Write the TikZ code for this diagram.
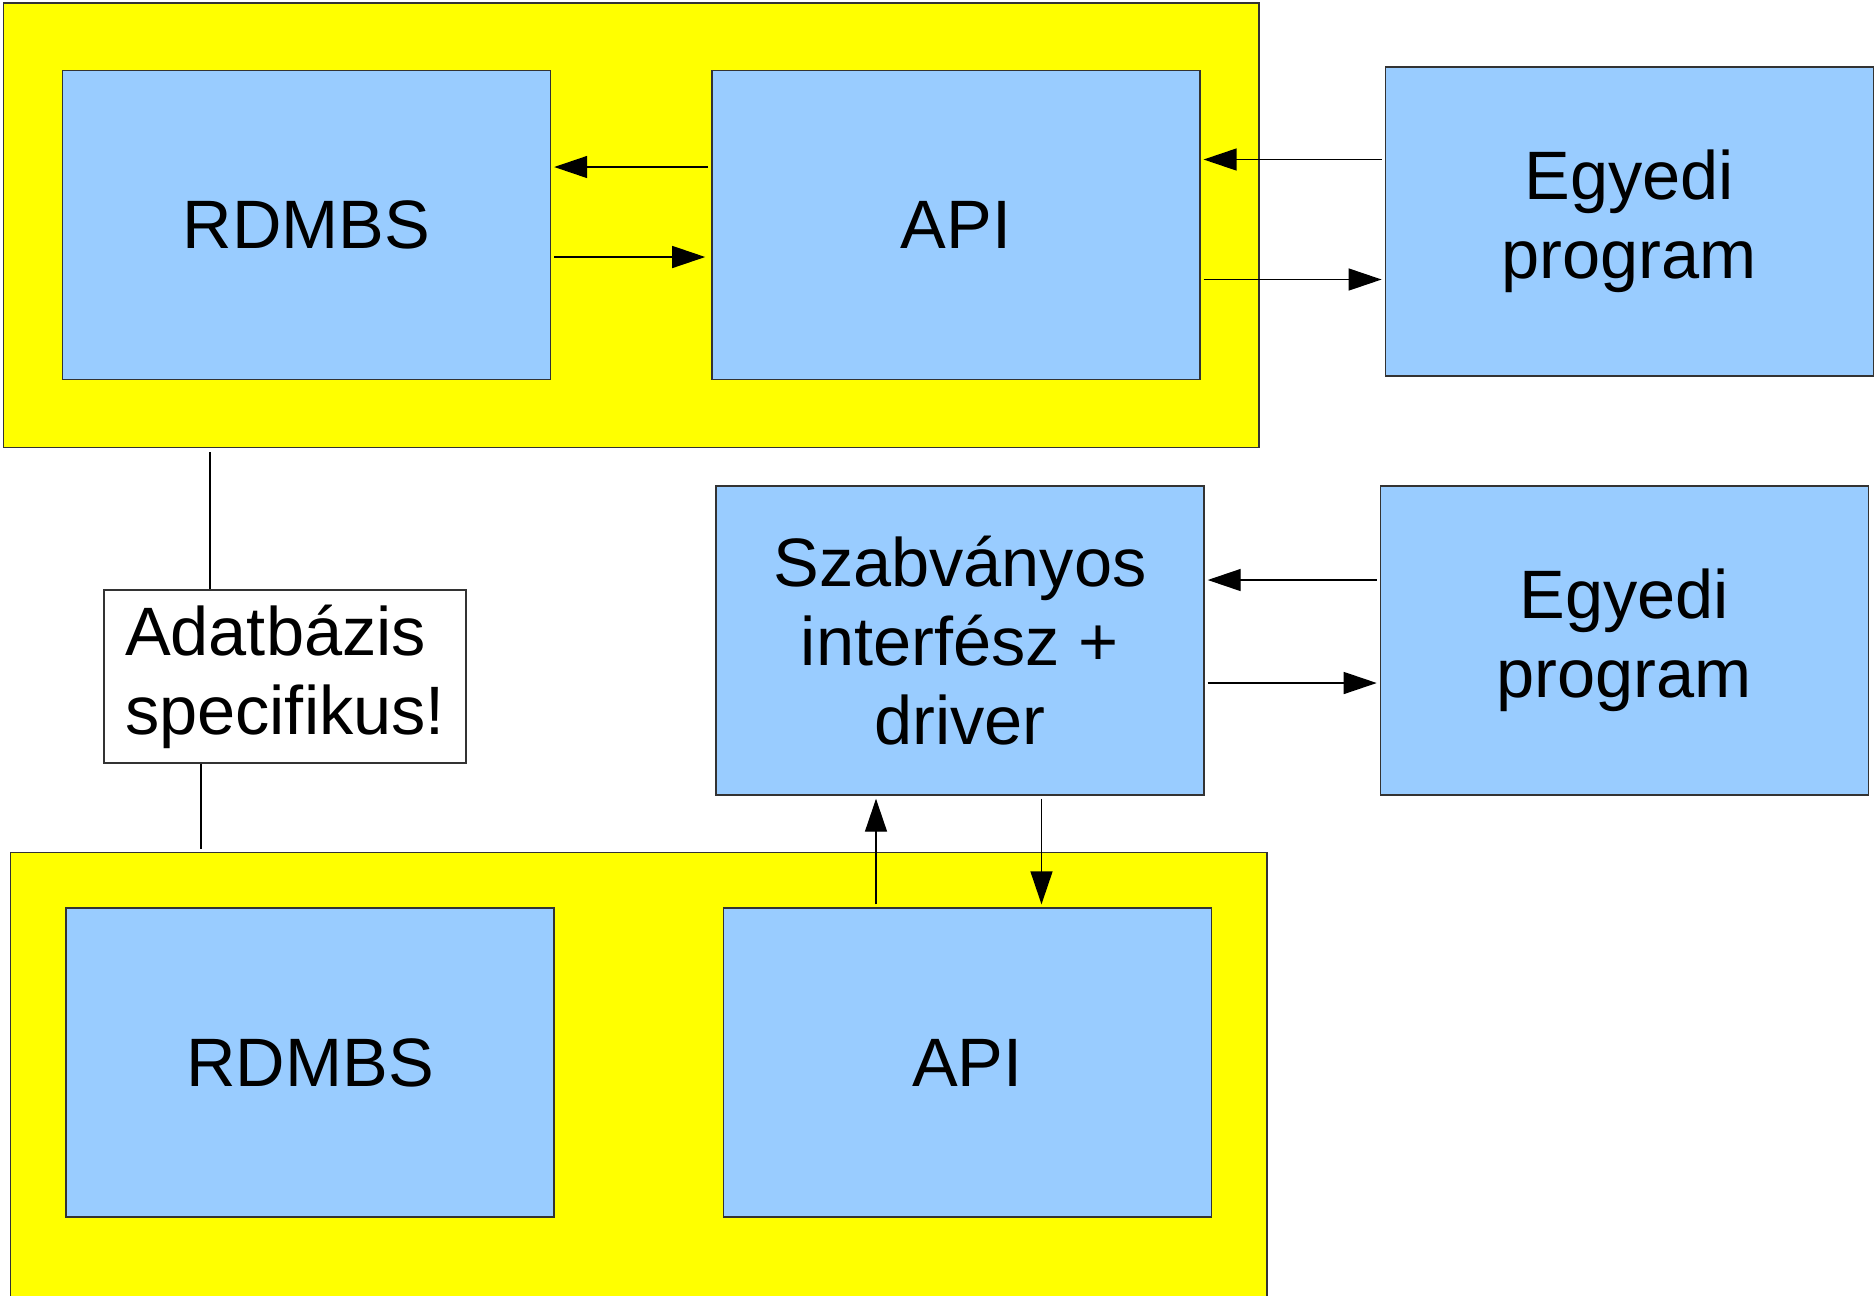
\documentclass[tikz,border=0pt]{standalone}
\usepackage{fontspec}
\setmainfont{Liberation Sans}
\usepackage{tikz}
\usetikzlibrary{arrows.meta,positioning,fit,backgrounds}
\definecolor{dbyellow}{HTML}{FFFF00}
\definecolor{blkblue}{HTML}{99CCFF}
\definecolor{edge}{HTML}{333333}
\tikzset{
  blk/.style  ={draw=edge,line width=0.4pt,fill=blkblue,minimum width=4.88cm,
                minimum height=3.09cm,inner sep=0pt,align=center,
                font={\fontsize{19.5}{22.4}\selectfont}},
  note/.style ={draw=edge,line width=0.4pt,fill=white,minimum width=3.62cm,
                minimum height=1.73cm,inner sep=0pt,align=left,
                font={\fontsize{19.5}{22.4}\selectfont}},
  zone/.style ={draw=edge,line width=0.4pt,fill=dbyellow},
  flow/.style ={-{Triangle[length=3.3mm,width=2.2mm]},line width=0.4pt,draw=black,
                shorten <=0.3mm,shorten >=0.3mm},
  link/.style ={line width=0.4pt,draw=black}
}
\begin{document}
\begin{tikzpicture}[node distance=1.6cm]
  \useasboundingbox (0,0) rectangle (18.75,-12.95);
  \node[blk] (rdb1) at (3.065,-2.25) {RDMBS};
  \node[blk,right=1.6cm of rdb1] (api1) {API};
  \node[blk,right=1.84cm of api1,yshift=0.35mm] (egy1) {Egyedi\\program};
  \node[blk] (szab) at (9.60,-6.405) {Szabványos\\interfész +\\driver};
  \node[blk,right=1.75cm of szab] (egy2) {Egyedi\\program};
  \node[blk] (rdb2) at (3.10,-10.625) {RDMBS};
  \node[blk,right=1.68cm of rdb2] (api2) {API};
  \node[note] (spec) at (2.85,-6.765) {Adatbázis\\specifikus!};
  \coordinate (lowend) at (6.5,-13.4);
  \begin{scope}[on background layer]
    \node[zone,inner xsep=5.85mm,inner ysep=6.7mm,fit=(rdb1)(api1)] (dbA) {};
    \node[zone,inner sep=5.5mm,fit=(rdb2)(api2)(lowend)] (dbB) {};
  \end{scope}
  \draw[flow] ([yshift=5.8mm]api1.west) -- ([yshift=5.8mm]rdb1.east);
  \draw[flow,shorten >=0.6mm] ([yshift=-3.2mm]rdb1.east) -- ([yshift=-3.2mm]api1.west);
  \draw[flow] ([yshift=6.2mm]egy1.west) -- ([yshift=6.2mm]egy1.west -| api1.east);
  \draw[flow] ([yshift=-5.8mm]egy1.west -| api1.east) -- ([yshift=-5.8mm]egy1.west);
  \draw[flow] ([yshift=6.05mm]egy2.west) -- ([yshift=6.05mm]egy2.west -| szab.east);
  \draw[flow] ([yshift=-4.25mm]szab.east) -- ([yshift=-4.25mm]szab.east -| egy2.west);
  \draw[flow] ([xshift=-8.4mm]szab.south |- api2.north) -- ([xshift=-8.4mm]szab.south);
  \draw[flow] ([xshift=8.15mm]szab.south) -- ([xshift=8.15mm]szab.south |- api2.north);
  \draw[link] ([xshift=-7.5mm]spec.north) -- ([xshift=-7.5mm,yshift=-0.4mm]spec.north |- dbA.south);
  \draw[link] ([xshift=-8.4mm]spec.south) -- ([xshift=-8.4mm,yshift=0.3mm]spec.south |- dbB.north);
\end{tikzpicture}
\end{document}
